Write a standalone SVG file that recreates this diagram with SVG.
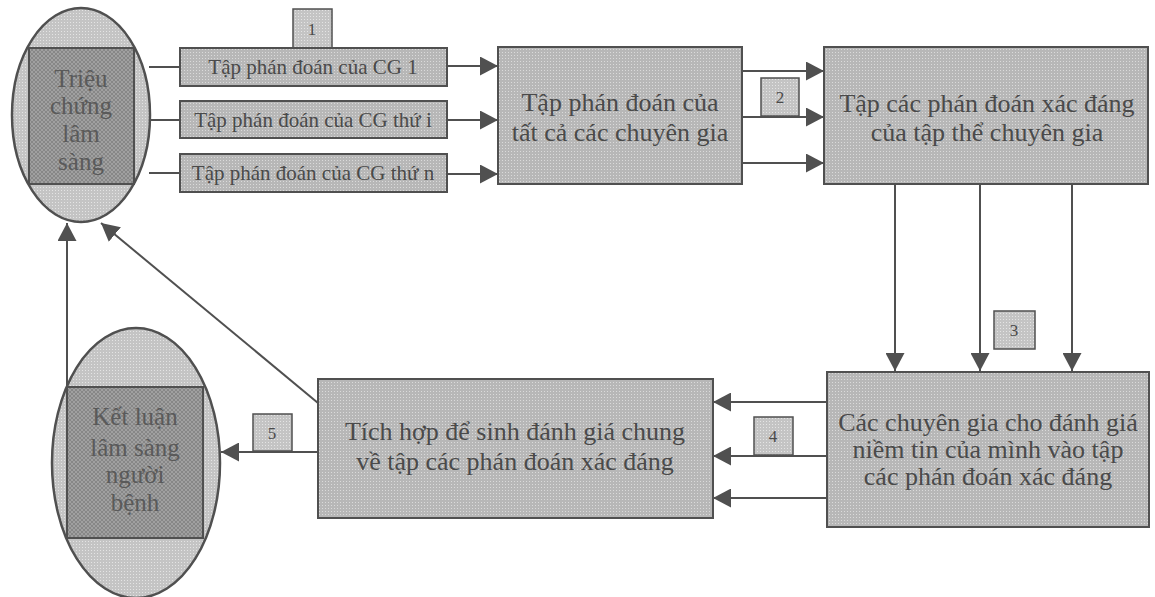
<svg xmlns="http://www.w3.org/2000/svg" width="1155" height="597" viewBox="0 0 1155 597">
  <style>
    text { font-family: "Liberation Serif", "Times New Roman", serif; fill: #4a4a4a; text-anchor: middle; }
    .box { fill: url(#dots); stroke: #505050; stroke-width: 2; }
    .tag { fill: url(#dotsLight); stroke: #505050; stroke-width: 1.5; }
    .oval { fill: url(#dotsLight); stroke: #505050; stroke-width: 2.5; }
    .core { fill: url(#hatch); stroke: #505050; stroke-width: 2; }
    .core-text { fill: #5a5a5a; }
    .wire { fill: none; stroke: #505050; stroke-width: 2; }
    .arrow { marker-end: url(#head); }
    .t21 { font-size: 21px; }
    .t26 { font-size: 26px; }
    .t25 { font-size: 25px; }
    .t17 { font-size: 17px; }
  </style>
  <defs>
    <pattern id="dots" width="3" height="3" patternUnits="userSpaceOnUse">
      <rect width="3" height="3" fill="#b7b7b7"/>
      <rect x="1" y="1" width="1" height="1" fill="#dadada"/>
    </pattern>
    <pattern id="dotsLight" width="3" height="3" patternUnits="userSpaceOnUse">
      <rect width="3" height="3" fill="#c4c4c4"/>
      <rect x="1" y="1" width="1" height="1" fill="#e4e4e4"/>
    </pattern>
    <pattern id="hatch" width="4" height="4" patternUnits="userSpaceOnUse">
      <rect width="4" height="4" fill="#878787"/>
      <path d="M0,0 L4,4 M4,0 L0,4" stroke="#a6a6a6" stroke-width="0.8"/>
    </pattern>
    <marker id="head" viewBox="0 0 18 19" refX="18" refY="9.5" markerWidth="18" markerHeight="19" markerUnits="userSpaceOnUse" orient="auto">
      <path d="M0,0 L18,9.5 L0,19 z" fill="#505050"/>
    </marker>
  </defs>

  <!-- connectors -->
  <g id="connectors">
    <!-- symptoms to each expert's judgement set -->
    <line class="wire" x1="149" y1="67" x2="180" y2="67"/>
    <line class="wire" x1="150" y1="120" x2="180" y2="120"/>
    <line class="wire" x1="149" y1="173" x2="180" y2="173"/>
    <!-- expert sets to combined set -->
    <line class="wire arrow" x1="447" y1="66" x2="498" y2="66"/>
    <line class="wire arrow" x1="447" y1="120" x2="498" y2="120"/>
    <line class="wire arrow" x1="447" y1="174" x2="498" y2="174"/>
    <!-- combined set to valid set -->
    <line class="wire arrow" x1="742" y1="71" x2="824" y2="71"/>
    <line class="wire arrow" x1="742" y1="117" x2="824" y2="117"/>
    <line class="wire arrow" x1="742" y1="163" x2="824" y2="163"/>
    <!-- valid set down to confidence ratings -->
    <line class="wire arrow" x1="895" y1="184" x2="895" y2="371"/>
    <line class="wire arrow" x1="980" y1="184" x2="980" y2="371"/>
    <line class="wire arrow" x1="1072" y1="184" x2="1072" y2="371"/>
    <!-- confidence ratings to aggregation -->
    <line class="wire arrow" x1="827" y1="402" x2="713" y2="402"/>
    <line class="wire arrow" x1="827" y1="456" x2="713" y2="456"/>
    <line class="wire arrow" x1="827" y1="498" x2="713" y2="498"/>
    <!-- aggregation to conclusion -->
    <line class="wire arrow" x1="318" y1="452" x2="221" y2="452"/>
    <!-- feedback to symptoms -->
    <line class="wire arrow" x1="318" y1="403" x2="101" y2="223"/>
    <line class="wire arrow" x1="67" y1="387" x2="67" y2="223"/>
  </g>

  <!-- clinical symptoms -->
  <g id="symptoms">
    <ellipse class="oval" cx="81" cy="115" rx="69" ry="107"/>
    <rect class="core" x="29" y="48" width="105" height="136"/>
    <text class="t25 core-text" x="81" y="87">Triệu</text>
    <text class="t25 core-text" x="81" y="114">chứng</text>
    <text class="t25 core-text" x="81" y="142">lâm</text>
    <text class="t25 core-text" x="81" y="170">sàng</text>
  </g>

  <g id="tag1">
    <rect class="tag" x="293" y="9" width="39" height="39"/>
    <text class="t17" x="312" y="35">1</text>
  </g>

  <g id="expert-1">
    <rect class="box" x="180" y="48" width="267" height="38"/>
    <text class="t21" x="313" y="74">Tập phán đoán của CG 1</text>
  </g>
  <g id="expert-i">
    <rect class="box" x="180" y="101" width="267" height="37"/>
    <text class="t21" x="313" y="127">Tập phán đoán của CG thứ i</text>
  </g>
  <g id="expert-n">
    <rect class="box" x="180" y="154" width="267" height="38"/>
    <text class="t21" x="313" y="180">Tập phán đoán của CG thứ n</text>
  </g>

  <g id="all-experts">
    <rect class="box" x="498" y="47" width="244" height="137"/>
    <text class="t26" x="620" y="111">Tập phán đoán của</text>
    <text class="t26" x="620" y="141">tất cả các chuyên gia</text>
  </g>

  <g id="tag2">
    <rect class="tag" x="761" y="78" width="38" height="38"/>
    <text class="t17" x="780" y="103">2</text>
  </g>

  <g id="valid-set">
    <rect class="box" x="824" y="47" width="324" height="137"/>
    <text class="t26" x="987" y="112">Tập các phán đoán xác đáng</text>
    <text class="t26" x="987" y="141">của tập thể chuyên gia</text>
  </g>

  <g id="tag3">
    <rect class="tag" x="994" y="311" width="41" height="38"/>
    <text class="t17" x="1014" y="336">3</text>
  </g>

  <g id="confidence">
    <rect class="box" x="827" y="372" width="322" height="155"/>
    <text class="t26" x="988" y="431">Các chuyên gia cho đánh giá</text>
    <text class="t26" x="988" y="458">niềm tin của mình vào tập</text>
    <text class="t26" x="988" y="485">các phán đoán xác đáng</text>
  </g>

  <g id="tag4">
    <rect class="tag" x="754" y="417" width="39" height="38"/>
    <text class="t17" x="773" y="442">4</text>
  </g>

  <g id="aggregate">
    <rect class="box" x="318" y="379" width="395" height="139"/>
    <text class="t26" x="515" y="440">Tích hợp để sinh đánh giá chung</text>
    <text class="t26" x="515" y="470">về tập các phán đoán xác đáng</text>
  </g>

  <g id="tag5">
    <rect class="tag" x="253" y="414" width="39" height="37"/>
    <text class="t17" x="272" y="439">5</text>
  </g>

  <!-- clinical conclusion -->
  <g id="conclusion">
    <ellipse class="oval" cx="136" cy="463" rx="84" ry="135"/>
    <rect class="core" x="67" y="387" width="136" height="151"/>
    <text class="t25 core-text" x="135" y="425">Kết luận</text>
    <text class="t25 core-text" x="135" y="456">lâm sàng</text>
    <text class="t25 core-text" x="135" y="483">người</text>
    <text class="t25 core-text" x="135" y="511">bệnh</text>
  </g>
</svg>
